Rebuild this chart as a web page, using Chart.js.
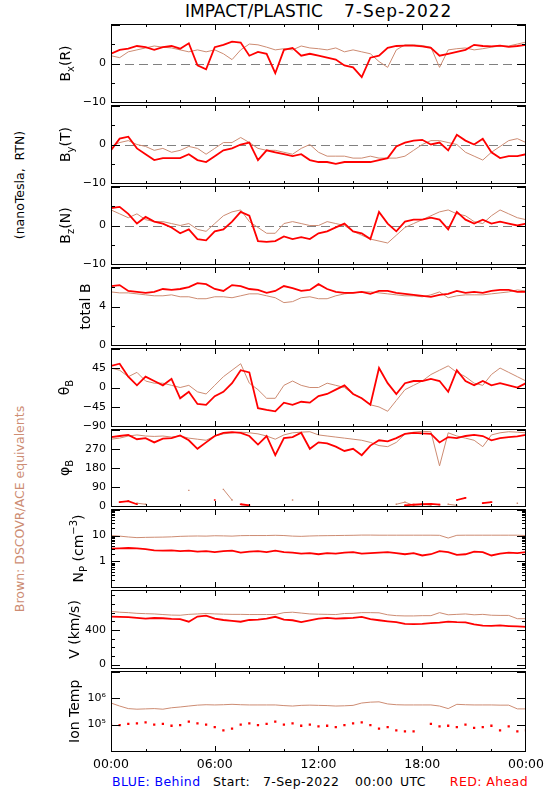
<!DOCTYPE html>
<html>
<head>
<meta charset="utf-8">
<title>IMPACT/PLASTIC 7-Sep-2022</title>
<script src="https://cdn.jsdelivr.net/npm/chart.js@4"></script>
<style>
  body { margin:0; width:550px; height:800px; position:relative; overflow:hidden; background:#fff; font-family:"DejaVu Sans", sans-serif; }
  canvas { position:absolute; left:0; }
  .t { position:absolute; white-space:pre; line-height:1; }
  .ft { font-size:12.5px; letter-spacing:0.4px; top:776px; }
  .rot { position:absolute; white-space:pre; line-height:1; font-size:12.5px; transform:translate(-50%,-50%) rotate(-90deg); }
</style>
</head>
<body>
<div class="t" style="left:185px;top:3px;font-size:17px">IMPACT/PLASTIC</div>
<div class="t" style="left:344px;top:3px;font-size:17px;letter-spacing:1px">7-Sep-2022</div>
<div class="rot" style="left:20px;top:185px">(nanoTesla,  RTN)</div>
<div class="rot" style="left:20px;top:509px;color:rgb(205,140,115)">Brown: DSCOVR/ACE equivalents</div>
<div class="t ft" style="left:112px;color:#0000ff">BLUE: Behind</div>
<div class="t ft" style="left:213px">Start:</div>
<div class="t ft" style="left:263px">7-Sep-2022</div>
<div class="t ft" style="left:355px">00:00</div>
<div class="t ft" style="left:400px">UTC</div>
<div class="t ft" style="right:22px;color:#ff0000">RED: Ahead</div>
<script>
// time of day, hours since 00:00
const hours = [0, 0.5, 1, 1.5, 2, 2.5, 3, 3.5, 4, 4.5, 5, 5.5,
  6, 6.5, 7, 7.5, 8, 8.5, 9, 9.5, 10, 10.5, 11, 11.5,
  12, 12.5, 13, 13.5, 14, 14.5, 15, 15.5, 16, 16.5, 17, 17.5,
  18, 18.5, 19, 19.5, 20, 20.5, 21, 21.5, 22, 22.5, 23, 23.5, 24];

// Bx (R), nT
const bxRed = [2.5, 3.5, 3.8, 4.5, 4.2, 3.5, 4.2, 4.5, 3.8, 5.2, -0.5, -1.5,
  4.2, 4.8, 5.6, 5.4, 2.0, 3.0, 2.5, -2.5, 3.5, 4.0, 2.0, 2.5,
  2.0, 1.5, 1.0, -0.5, -1.0, -3.5, 1.5, 2.0, 4.0, 4.5, 4.6, 4.6,
  4.4, 4.0, 2.0, 2.5, 3.0, 3.5, 4.8, 4.5, 4.4, 4.6, 4.3, 4.5, 4.8];
const bxBrown = [2.0, 1.5, 3.0, 3.5, 4.0, 4.5, 4.2, 4.0, 3.5, 3.0, 3.5, 3.0,
  3.5, 2.5, 1.0, 3.5, 5.0, 4.8, 4.2, 3.5, 3.8, 3.5, 4.5, 4.0,
  3.8, 3.5, 4.0, 3.0, 3.5, 3.0, 2.5, 0.5, -1.0, 3.5, 4.8, 4.8,
  4.6, 4.2, -1.0, 3.5, 3.8, 4.0, 3.5, 3.8, 4.2, 4.5, 4.5, 5.0, 5.5];

// By (T), nT
const byRed = [-1.5, 1.5, 2.0, -1.0, -2.5, -4.0, -3.5, -3.5, -3.5, -2.5, -4.0, -4.5,
  -3.0, -1.5, -1.0, 0.0, 0.5, -4.0, -1.5, -2.0, -2.5, -3.0, -2.5, -4.0,
  -4.5, -4.5, -5.0, -4.5, -4.5, -4.5, -4.5, -4.0, -3.5, -0.5, 0.5, 1.0,
  1.2, 0.0, 0.5, -1.5, 2.5, 1.0, 0.0, 1.5, -2.0, -3.5, -3.0, -3.0, -2.5];
const byBrown = [-0.5, 0.5, 1.0, 0.0, -0.5, -1.5, -1.0, -2.0, -1.5, -0.5, -1.0, -2.5,
  -1.0, 0.5, 0.5, 1.8, 0.5, -1.0, -1.5, -1.5, -2.0, -2.5, -1.0, 0.0,
  -2.0, -3.0, -3.0, -3.0, -3.5, -3.5, -3.0, -3.5, -3.5, -3.5, -3.0, -1.5,
  0.0, 1.0, 1.0, 0.5, 0.0, -2.0, -3.0, -4.0, -2.0, -0.5, 1.0, 1.5, 0.5];

// Bz (N), nT
const bzRed = [4.5, 4.8, 3.0, 0.5, 2.2, 1.0, 0.5, -0.5, -2.0, -1.0, -3.5, -3.8,
  -1.5, -1.0, 1.0, 3.5, 2.5, -4.0, -4.2, -4.0, -2.8, -3.5, -3.0, -3.5,
  -2.0, -1.5, -0.5, 0.5, -1.5, -2.0, -3.5, 3.5, 0.5, -1.5, 1.0, 1.5,
  1.5, 2.0, 1.5, -1.0, 3.5, 1.5, 0.5, 1.5, 0.5, 1.0, 0.5, 0.0, 0.5];
const bzBrown = [4.0, 3.0, 2.0, 3.0, 1.5, 1.0, 1.0, 0.5, 0.0, 0.5, -1.0, -1.5,
  0.5, 2.5, 3.5, 4.0, 1.0, -0.5, -2.0, -2.0, 0.5, 1.0, 0.5, 0.0,
  0.0, 1.0, 0.5, 0.0, -1.5, -2.5, -3.5, -4.0, -4.5, -2.5, -0.5, 0.5,
  1.5, 2.5, 3.5, 4.0, 3.0, 2.5, 1.0, 0.5, 2.5, 4.0, 3.0, 2.0, 1.5];

// total B, nT
const btRed = [6.1, 6.2, 5.6, 5.5, 5.4, 5.5, 5.8, 5.7, 5.8, 6.0, 6.4, 6.3,
  5.8, 5.6, 6.2, 6.1, 5.8, 5.7, 5.4, 5.6, 6.1, 5.9, 5.6, 5.7,
  6.3, 5.8, 5.5, 5.4, 5.4, 5.5, 5.3, 5.6, 5.6, 5.4, 5.3, 5.2,
  5.1, 5.0, 5.2, 5.3, 5.6, 5.4, 5.5, 5.4, 5.6, 5.7, 5.7, 5.5, 5.5];
const btBrown = [5.5, 5.4, 5.4, 5.3, 5.2, 5.1, 5.1, 5.2, 5.0, 5.0, 4.8, 4.8,
  5.0, 5.0, 4.9, 5.1, 5.3, 5.3, 5.1, 4.9, 4.4, 4.5, 4.9, 5.0,
  4.8, 4.8, 5.1, 5.3, 5.4, 5.5, 5.5, 5.4, 5.3, 5.2, 5.1, 5.1,
  5.0, 5.2, 5.5, 4.9, 5.1, 5.2, 5.2, 5.2, 5.3, 5.4, 5.5, 5.7, 5.6];

// theta B, degrees
const thetaRed = [50, 55, 25, 5, 25, 15, 5, 20, -25, -10, -38, -40,
  -20, -10, 10, 40, 35, -48, -52, -55, -35, -40, -33, -35,
  -20, -15, -5, 5, -15, -25, -40, 45, 10, -15, 10, 15,
  15, 20, 15, -10, 40, 15, 5, 15, 5, 10, 5, 0, 10];
const thetaBrown = [45, 40, 25, 35, 15, 10, 10, 5, 0, 5, -10, -15,
  5, 25, 40, 55, 10, -5, -25, -25, 5, 15, 5, 0,
  0, 10, 5, 0, -15, -25, -40, -45, -55, -30, -5, 5,
  15, 30, 40, 50, 35, 25, 10, 5, 30, 45, 35, 25, 15];

// phi B, degrees (values wrapped past 360 kept in the *Wrap arrays)
const phiRed = [325, 330, 335, 315, 320, 300, 318, 320, 333, 310, 270, 300,
  330, 345, 348, 345, 330, 290, 330, 240, 320, 325, 345, 270,
  300, 295, 280, 260, 270, 240, 285, 310, 305, 320, 340, 345,
  342, 340, 300, 325, 320, 330, 335, 330, 310, 320, 325, 328, 335];
const phiRedWrap = [null, 20, 25, 10, null, null, null, null, null, null, null, null,
  30, null, null, 10, 5, null, null, null, null, null, null, null,
  null, null, null, null, null, null, null, null, null, null, 5, 8,
  10, 12, 8, null, 30, 40, null, 15, 20, null, null, null, null];
const phiBrown = [315, 320, 330, 335, 330, 328, 330, 325, 330, 320, 315, 310,
  330, 340, 345, 348, 345, 340, 330, 315, 335, 345, 348, 350,
  335, 330, 325, 320, 315, 310, 300, 285, 280, 300, 340, 348,
  352, 350, 190, 345, 330, 320, 310, 280, 335, 345, 350, 348, 345];
const phiBrownWrap = [null, null, null, 15, 10, null, null, null, null, 75, null, null,
  null, 80, 30, null, null, null, null, null, null, 30, null, null,
  null, null, null, null, null, null, null, null, null, 10, 20, 5,
  10, 5, null, 10, 5, null, null, null, null, null, null, 15, null];

// proton density, cm^-3
const npRed = [3.1, 3.2, 3.3, 3.2, 3.0, 2.7, 2.6, 2.7, 2.5, 2.6, 2.4, 2.5,
  2.3, 2.5, 2.6, 2.2, 2.4, 2.5, 2.3, 2.6, 2.3, 2.2, 2.0, 2.1,
  1.9, 2.1, 2.0, 2.2, 2.3, 2.0, 2.1, 2.2, 2.3, 2.1, 1.9, 2.1,
  1.7, 1.9, 2.5, 2.3, 1.8, 1.9, 2.4, 2.3, 1.7, 2.0, 2.2, 2.1, 2.3];
const npBrown = [10, 9.5, 8.8, 8.3, 8.5, 8.6, 8.7, 8.9, 9.3, 9.5, 9.6, 9.5,
  9.8, 9.7, 9.5, 9.9, 10, 10, 10, 10.2, 10, 9.5, 9.3, 9.6,
  9.8, 9.9, 10, 10.1, 10.2, 10.4, 10.4, 10.3, 10.3, 10.3, 10.3, 10.3,
  10.3, 10.3, 10.2, 8.0, 10.2, 10.3, 10.3, 10.3, 10.3, 10.3, 10.3, 10.3, 10.0];

// bulk speed, km/s
const vRed = [555, 552, 548, 540, 530, 538, 535, 528, 525, 495, 555, 565,
  530, 515, 505, 495, 515, 520, 530, 552, 520, 512, 490, 510,
  530, 540, 530, 535, 540, 550, 525, 512, 500, 490, 470, 468,
  470, 478, 485, 495, 490, 488, 465, 450, 448, 452, 445, 440, 435];
const vBrown = [615, 605, 600, 592, 588, 585, 578, 572, 570, 580, 585, 590,
  585, 582, 580, 580, 578, 578, 578, 578, 600, 605, 595, 585,
  582, 580, 578, 590, 592, 600, 600, 598, 575, 565, 562, 562,
  565, 565, 600, 575, 580, 585, 575, 580, 570, 568, 568, 530, 530];

// ion temperature, K
const tempRed = [1.0e5, 0.95e5, 1.05e5, 1.1e5, 1.2e5, 1.0e5, 1.05e5, 0.9e5, 0.95e5, 1.3e5, 1.1e5, 1.0e5,
  0.8e5, 0.6e5, 0.7e5, 1.0e5, 1.1e5, 0.95e5, 1.05e5, 1.3e5, 1.0e5, 1.1e5, 0.9e5, 1.0e5,
  0.85e5, 0.9e5, 0.8e5, 0.95e5, 1.1e5, 1.2e5, 0.95e5, 0.7e5, 0.8e5, 0.6e5, 0.55e5, 0.55e5,
  null, 1.05e5, 0.85e5, 0.9e5, 0.8e5, 1.0e5, 0.75e5, 0.8e5, 0.9e5, 0.6e5, 0.85e5, 0.55e5, 0.6e5];
const tempBrown = [6.5e5, 5.0e5, 4.0e5, 3.8e5, 3.9e5, 4.0e5, 3.8e5, 4.3e5, 4.6e5, 5.0e5, 5.4e5, 5.6e5,
  5.5e5, 5.6e5, 5.8e5, 5.6e5, 5.5e5, 5.5e5, 5.5e5, 5.5e5, 5.2e5, 5.0e5, 5.3e5, 5.4e5,
  5.3e5, 5.2e5, 5.0e5, 5.1e5, 5.3e5, 6.5e5, 7.0e5, 7.2e5, 6.0e5, 5.6e5, 5.5e5, 5.5e5,
  5.5e5, 5.5e5, 5.0e5, 4.0e5, 5.8e5, 5.6e5, 5.5e5, 5.5e5, 5.5e5, 5.4e5, 5.4e5, 3.9e5, 3.9e5];

// tick labels
const xTickLabels = [[0, '00:00'], [6, '06:00'], [12, '12:00'], [18, '18:00'], [24, '00:00']];
const bTickLabels = [[-10, '\u221210'], [0, '0']];
const btTickLabels = [[0, '0'], [4, '4']];
const thetaTickLabels = [[-90, '\u221290'], [-45, '\u221245'], [0, '0'], [45, '45']];
const phiTickLabels = [[0, '0'], [90, '90'], [180, '180'], [270, '270']];
const npTickLabels = [[1, '1'], [10, '10']];
const vTickLabels = [[0, '0'], [400, '400']];
const tempTickLabels = [[1e5, '10\u2075'], [1e6, '10\u2076']];

const RED = '#ff0000';
const BROWN = 'rgb(205,140,115)';
Chart.defaults.font.family = '"DejaVu Sans", sans-serif';

const panelTops = [23, 104, 185, 266, 347, 428, 508, 589, 670, 751];

const bMarks = [[-10, 1], [-5, 0], [0, 1], [5, 0], [10, 1]];
const npMarks = [];
[0.1, 1, 10].forEach(d => { npMarks.push([d, 1]); for (let k = 2; k <= 9; k++) npMarks.push([d * k, 0]); });
npMarks.push([100, 1]);

function line(d, c, w) { return { d, c, w, pr: 0 }; }

const panels = [
  { title: [['B'], ['x', 'sub'], ['(R)']], tx: 70, type: 'linear', min: -10, max: 10, labels: bTickLabels, marks: bMarks, zero: true,
    sets: [line(bxRed, RED, 1.8), line(bxBrown, BROWN, 1)] },
  { title: [['B'], ['y', 'sub'], ['(T)']], tx: 70, type: 'linear', min: -10, max: 10, labels: bTickLabels, marks: bMarks, zero: true,
    sets: [line(byRed, RED, 1.8), line(byBrown, BROWN, 1)] },
  { title: [['B'], ['z', 'sub'], ['(N)']], tx: 70, type: 'linear', min: -10, max: 10, labels: bTickLabels, marks: bMarks, zero: true,
    sets: [line(bzRed, RED, 1.8), line(bzBrown, BROWN, 1)] },
  { title: [['total B']], tx: 90, type: 'linear', min: 0, max: 8, labels: btTickLabels,
    marks: [[0, 1], [2, 0], [4, 1], [6, 0], [8, 1]],
    sets: [line(btRed, RED, 1.8), line(btBrown, BROWN, 1)] },
  { title: [['\u03b8'], ['B', 'sub']], tx: 69, type: 'linear', min: -90, max: 90, labels: thetaTickLabels,
    marks: [[-90, 1], [-45, 1], [0, 1], [45, 1], [90, 1]],
    sets: [line(thetaRed, RED, 1.8), line(thetaBrown, BROWN, 1)] },
  { title: [['\u03c6'], ['B', 'sub']], tx: 69, type: 'linear', min: 0, max: 360, labels: phiTickLabels,
    marks: [[0, 1], [90, 1], [180, 1], [270, 1], [360, 1]],
    sets: [line(phiRed, RED, 1.8), { d: phiRedWrap, c: RED, w: 1.8, pr: 1.2 },
           line(phiBrown, BROWN, 1), { d: phiBrownWrap, c: BROWN, w: 1, pr: 1 }] },
  { title: [['N'], ['P', 'sub'], [' (cm'], ['\u22123', 'sup'], [')']], tx: 83, type: 'logarithmic', min: 0.1, max: 100,
    labels: npTickLabels, marks: npMarks,
    sets: [line(npRed, RED, 1.8), line(npBrown, BROWN, 1)] },
  { title: [['V (km/s)']], tx: 79, type: 'linear', min: -45, max: 855, labels: vTickLabels,
    marks: [[0, 1], [100, 0], [200, 0], [300, 0], [400, 1], [500, 0], [600, 0], [700, 0], [800, 0]],
    sets: [line(vRed, RED, 1.8), line(vBrown, BROWN, 1)] },
  { title: [['Ion Temp']], tx: 79, type: 'logarithmic', min: 1e4, max: 1e7, labels: tempTickLabels,
    marks: [[1e4, 1], [1e5, 1], [1e6, 1], [1e7, 1]],
    sets: [{ d: tempRed, c: RED, w: 0, pr: 1.6, noLine: true }, line(tempBrown, BROWN, 1)] }
];

function series(vals) { return hours.map((h, i) => ({ x: h, y: vals[i] })); }

function makeDeco(p) {
  return {
    id: 'deco',
    beforeDatasetsDraw(chart) {
      if (!p.zero) return;
      const { ctx, chartArea: a, scales: { y } } = chart;
      const py = Math.round(y.getPixelForValue(0)) + 0.5;
      ctx.save();
      ctx.strokeStyle = '#808080';
      ctx.lineWidth = 1;
      ctx.setLineDash([9, 5]);
      ctx.beginPath();
      ctx.moveTo(a.left, py);
      ctx.lineTo(a.right, py);
      ctx.stroke();
      ctx.restore();
    },
    afterDraw(chart) {
      const { ctx, chartArea: a } = chart;
      const y = chart.scales.y;
      const L = Math.round(a.left), R = Math.round(a.right) - 1;
      const T = Math.floor(a.top), B = Math.floor(a.bottom);
      ctx.save();
      ctx.setLineDash([]);
      ctx.globalAlpha = 1;
      ctx.fillStyle = '#000';
      // frame
      ctx.fillRect(L, T, R - L + 1, 1);
      ctx.fillRect(L, B, R - L + 1, 1);
      ctx.fillRect(L, T, 1, B - T + 1);
      ctx.fillRect(R, T, 1, B - T + 1);
      // y ticks, inward on both sides
      p.marks.forEach(([v, major]) => {
        const py = Math.min(B, Math.max(T, Math.round(y.getPixelForValue(v))));
        const len = major ? 9 : 4;
        ctx.fillRect(L, py, len, 1);
        ctx.fillRect(R - len + 1, py, len, 1);
      });
      // x ticks every 2 h, longer every 6 h
      const span = R - L;
      for (let h = 2; h < 24; h += 2) {
        const px = L + Math.round(span * h / 24);
        const len = h % 6 === 0 ? 6 : 3;
        ctx.fillRect(px, T, 1, len);
        ctx.fillRect(px, B - len + 1, 1, len);
      }

      // y axis title, rotated, with sub/superscripts
      const cy = (a.top + a.bottom) / 2;
      ctx.translate(p.tx, cy);
      ctx.rotate(-Math.PI / 2);
      ctx.textBaseline = 'alphabetic';
      ctx.textAlign = 'left';
      const fontFor = k => (k ? '10px' : '14px') + ' "DejaVu Sans", sans-serif';
      let total = 0;
      p.title.forEach(([t, k]) => { ctx.font = fontFor(k); total += ctx.measureText(t).width; });
      let cx = -total / 2;
      p.title.forEach(([t, k]) => {
        ctx.font = fontFor(k);
        const dy = k === 'sub' ? 4 : (k === 'sup' ? -6 : 0);
        ctx.fillText(t, cx, dy);
        cx += ctx.measureText(t).width;
      });
      ctx.restore();
    }
  };
}

panels.forEach((p, i) => {
  const top = panelTops[i], h = panelTops[i + 1] - top;
  const last = i === panels.length - 1;
  const ch = h + 10 + (last ? 30 : 10);
  const cv = document.createElement('canvas');
  cv.width = 550; cv.height = ch;
  cv.style.top = (top - 10) + 'px';
  cv.style.width = '550px'; cv.style.height = ch + 'px';
  document.body.appendChild(cv);

  new Chart(cv, {
    type: 'line',
    data: {
      datasets: p.sets.map(s => ({
        data: series(s.d),
        borderColor: s.c,
        backgroundColor: s.c,
        borderWidth: s.w,
        pointRadius: s.pr,
        pointBorderWidth: 0,
        pointStyle: 'rect',
        showLine: !s.noLine,
        spanGaps: false,
        tension: 0,
        fill: false
      }))
    },
    options: {
      responsive: false,
      animation: false,
      devicePixelRatio: 1,
      events: [],
      layout: { padding: { left: 0, right: 24, top: 10, bottom: last ? 0 : 10 } },
      plugins: { legend: { display: false }, tooltip: { enabled: false } },
      scales: {
        x: {
          type: 'linear', min: 0, max: 24, display: last,
          grid: { display: false, drawTicks: false }, border: { display: false },
          afterBuildTicks: s => { s.ticks = xTickLabels.map(([v]) => ({ value: v })); },
          afterFit: s => { s.height = last ? 30 : 0; },
          ticks: { autoSkip: false, maxRotation: 0, padding: 6, color: '#000', font: { size: 12.5 },
                   callback: (v, k) => xTickLabels[k][1] }
        },
        y: {
          type: p.type, min: p.min, max: p.max,
          grid: { display: false, drawTicks: false }, border: { display: false },
          afterFit: s => { s.width = 111; },
          afterBuildTicks: s => { s.ticks = p.labels.map(([v]) => ({ value: v })); },
          ticks: { autoSkip: false, padding: 5, color: '#000', font: { size: 11 },
                   callback: (v, k) => p.labels[k][1] }
        }
      }
    },
    plugins: [makeDeco(p)]
  });
});
</script>
</body>
</html>
